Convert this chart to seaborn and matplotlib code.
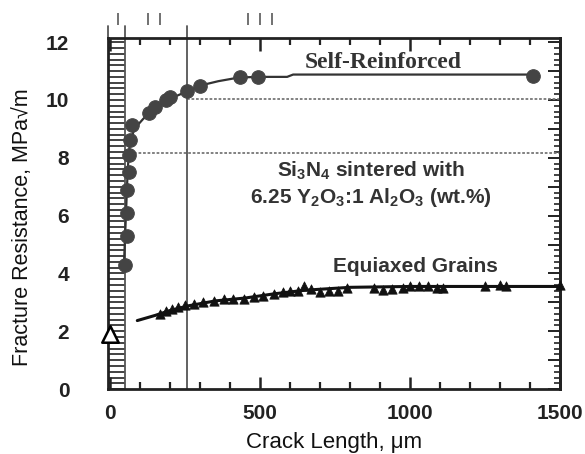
import numpy as np
import pandas as pd
import seaborn as sns
import matplotlib.pyplot as plt
from matplotlib.ticker import MultipleLocator

# --- données ---
self_x = [50, 57, 57, 57, 62, 62, 67, 72, 130, 150, 185, 200, 257, 300, 433, 493, 1410]
self_y = [4.3, 5.3, 6.1, 6.9, 7.5, 8.1, 8.6, 9.15, 9.55, 9.75, 10.0, 10.1, 10.3, 10.5, 10.8, 10.8, 10.83]

self_line_x = [45, 52, 58, 65, 80, 110, 150, 200, 257, 300, 360, 430, 500, 590, 610, 1410]
self_line_y = [4.2, 6.0, 7.6, 8.5, 9.0, 9.35, 9.7, 10.05, 10.3, 10.5, 10.65, 10.78, 10.8, 10.8, 10.88, 10.88]

equi_x = [165, 185, 205, 225, 250, 280, 310, 345, 380, 410, 445, 480, 510, 545, 575, 600,
          625, 645, 670, 700, 730, 760, 790, 880, 910, 940, 975, 1000, 1030, 1060, 1090,
          1110, 1250, 1300, 1320, 1500]
equi_y = [2.6, 2.7, 2.78, 2.85, 2.9, 2.95, 3.0, 3.05, 3.12, 3.1, 3.12, 3.18, 3.22, 3.3, 3.35, 3.38,
          3.4, 3.55, 3.45, 3.35, 3.4, 3.4, 3.48, 3.5, 3.42, 3.45, 3.5, 3.55, 3.55, 3.55, 3.5,
          3.48, 3.55, 3.6, 3.55, 3.6]

equi_line_x = [90, 150, 200, 260, 350, 450, 550, 650, 800, 1000, 1500]
equi_line_y = [2.37, 2.55, 2.72, 2.88, 3.05, 3.15, 3.3, 3.42, 3.52, 3.55, 3.55]

open_x = [0]
open_y = [1.9]

ref_levels = [10.05, 8.15]
ref_starts = [257, 50]
vert_x = [50, 257]
top_marks_x = [27, 127, 167, 460, 500, 540]

# --- style ---
sns.set_theme(style="ticks")
plt.rcParams['font.family'] = ['Liberation Sans', 'DejaVu Sans']
plt.rcParams['mathtext.fontset'] = 'custom'
plt.rcParams['mathtext.rm'] = 'Liberation Sans:bold'
plt.rcParams['mathtext.default'] = 'rm'
plt.rcParams['text.color'] = '#111111'
plt.rcParams['axes.labelcolor'] = '#111111'
plt.rcParams['xtick.color'] = '#222222'
plt.rcParams['ytick.color'] = '#222222'

fig = plt.figure(figsize=(5.85, 4.54), dpi=100)
ax = fig.add_axes([0.185, 0.143, 0.772, 0.773])

# lignes de référence
for lvl, x0 in zip(ref_levels, ref_starts):
    ax.plot([x0, 1500], [lvl, lvl], color='#777777', lw=1.3, ls=(0, (1.5, 1)), zorder=1)
for xv in vert_x:
    ax.plot([xv, xv], [0, 12.55], color='#555555', lw=1.3, clip_on=False, zorder=1)
ax.vlines(top_marks_x, 12.6, 13.0, color='#666666', lw=1.3, clip_on=False)
ax.plot([-7, -7], [12.14, 12.55], color='#555555', lw=1.3, clip_on=False)

# Self-Reinforced
sns.lineplot(x=self_line_x, y=self_line_y, ax=ax, color='#333333', lw=1.6, sort=False,
             estimator=None, zorder=2)
sns.scatterplot(x=self_x, y=self_y, ax=ax, color='#444444', s=95, marker='o',
                edgecolor='#444444', zorder=3, clip_on=False)

# Equiaxed Grains
sns.lineplot(x=equi_line_x, y=equi_line_y, ax=ax, color='#111111', lw=2.2, sort=False,
             estimator=None, zorder=2)
sns.scatterplot(x=equi_x, y=equi_y, ax=ax, color='#111111', s=45, marker='^',
                edgecolor='#111111', zorder=3, clip_on=False)

# triangle ouvert
ax.scatter(open_x, open_y, s=140, marker='^', facecolor='white', edgecolor='black',
           linewidth=1.8, zorder=4, clip_on=False)

# axes
ax.set_xlim(-7, 1500)
ax.set_ylim(0, 12.14)
ax.xaxis.set_major_locator(MultipleLocator(500))
ax.xaxis.set_minor_locator(MultipleLocator(100))
ax.yaxis.set_major_locator(MultipleLocator(2))
ax.yaxis.set_minor_locator(MultipleLocator(0.2))
for sp in ax.spines.values():
    sp.set_visible(True)
    sp.set_linewidth(2)
    sp.set_color('#222222')

ax.tick_params(axis='x', which='major', direction='in', top=True, length=9, width=1.8,
               pad=11, labelsize=15)
ax.tick_params(axis='x', which='minor', direction='in', top=True, length=5, width=1.6)
ax.tick_params(axis='y', which='both', direction='in', right=False, length=12, width=1.2,
               pad=28, labelsize=15)
for lab in ax.get_xticklabels() + ax.get_yticklabels():
    lab.set_fontweight('bold')

sec = ax.secondary_yaxis('right')
sec.yaxis.set_major_locator(MultipleLocator(1))
sec.yaxis.set_minor_locator(MultipleLocator(0.2))
sec.tick_params(which='major', direction='in', length=9, width=1.4, labelright=False)
sec.tick_params(which='minor', direction='in', length=4, width=1.2)
sec.spines['right'].set_linewidth(2)

ax.set_xlabel('Crack Length, μm', fontsize=16, labelpad=6)
ax.set_ylabel('Fracture Resistance, MPa√m', fontsize=15.5)
ax.yaxis.set_label_coords(-0.166, 0.46)

# annotations
ax.text(910, 11.3, 'Self-Reinforced', fontsize=17, fontweight='bold',
        family='Liberation Serif', ha='center', va='center', color='#333333')
ax.text(870, 7.55, 'Si$_3$N$_4$ sintered with', fontsize=15, fontweight='bold',
        ha='center', va='center', color='#333333')
ax.text(870, 6.62, '6.25 Y$_2$O$_3$:1 Al$_2$O$_3$ (wt.%)', fontsize=15, fontweight='bold',
        ha='center', va='center', color='#333333')
ax.text(1017, 4.25, 'Equiaxed Grains', fontsize=15, fontweight='bold',
        ha='center', va='center', color='#333333')

fig.savefig('out.png', dpi=100)
